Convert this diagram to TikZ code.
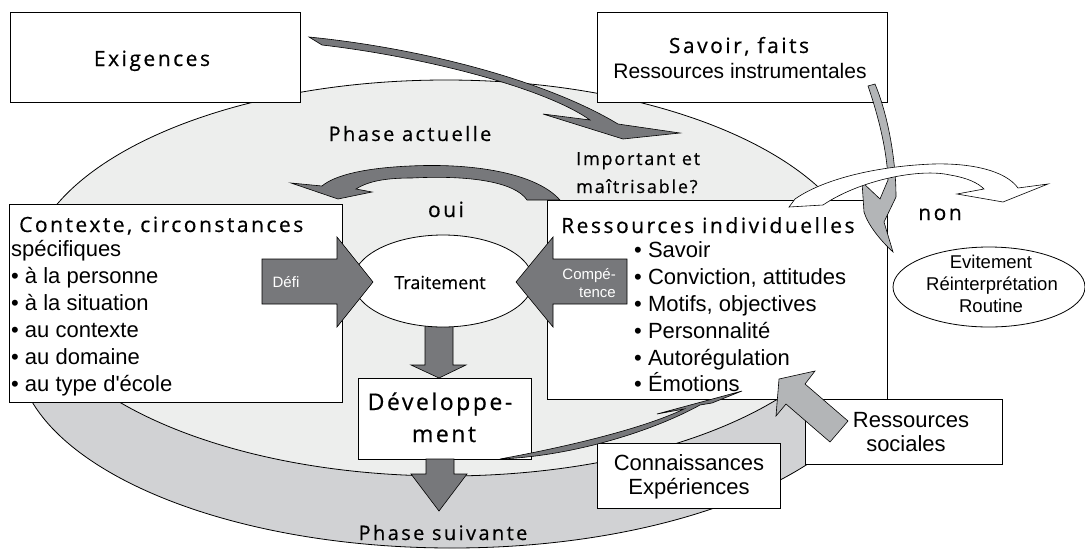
\documentclass[tikz,border=0pt]{standalone}
\usepackage{fontspec}
\setmainfont{Liberation Sans}
\newfontfamily\ttlfont[LetterSpace=12,FakeBold=0.5]{Open Sans}
\newfontfamily\ttlsfont[LetterSpace=10,FakeBold=0.5]{Open Sans}
\newfontfamily\ttlwfont[LetterSpace=11,FakeBold=0.5]{Open Sans}
\newfontfamily\plainttl[FakeBold=0.4]{Open Sans}
\usetikzlibrary{shapes.geometric}
\definecolor{darkarrow}{HTML}{77787B}
\definecolor{topgrey}{HTML}{EDEEED}
\definecolor{botgrey}{HTML}{D1D2D4}
\definecolor{lightarrow}{HTML}{B3B5B7}
\begin{document}
\begin{tikzpicture}[x=1pt,y=-1pt,
  box/.style={draw=black, fill=white, line width=0.8pt, inner sep=0pt},
  ttl/.style={font=\ttlfont\fontsize{21}{25}\selectfont, inner sep=0pt},
  ttlm/.style={font=\ttlfont\fontsize{20}{24}\selectfont, inner sep=0pt},
  ttls/.style={font=\ttlsfont\fontsize{18}{22}\selectfont, inner sep=0pt},
  ttlw/.style={font=\ttlwfont\fontsize{23}{27}\selectfont, inner sep=0pt},
  body/.style={font=\fontsize{22}{27}\selectfont, inner sep=0pt},
  small/.style={font=\fontsize{18.5}{22}\selectfont, inner sep=0pt},
  tiny/.style={font=\fontsize{15}{18}\selectfont, inner sep=0pt, text=white},
  shapeline/.style={draw=black, line width=0.6pt, line join=miter},
]
\useasboundingbox (0,0) rectangle (1085,550);

% the disk
\path[draw=black, line width=0.8pt, fill=botgrey] (452,350) ellipse [x radius=435pt, y radius=198pt];
\path[draw=black, line width=0.8pt, fill=topgrey] (446,278) ellipse [x radius=419pt, y radius=198pt];

% top boxes
\node[box, anchor=north west, minimum width=290pt, minimum height=90pt] (exig) at (10,12) {};
\node[box, anchor=north west, minimum width=290pt, minimum height=90pt] (savoir) at (597,12) {};
\node[ttl, anchor=base] (exigt) at (152,66) {Exigences};
\node[ttl, anchor=base] (savt1) at (739,53) {Savoir, faits};
\node[font=\fontsize{21}{25}\selectfont, inner sep=0pt, anchor=base] (savt2) at (740,78) {Ressources instrumentales};

% Exigences arrow
\path[shapeline, fill=darkarrow] (309,37) .. controls (420,48) and (545,80) .. (618,124)
  -- (680,133) -- (623,139) -- (543,114) -- (590,120)
  .. controls (545,88) and (425,57) .. (322,45) -- cycle;

% middle boxes
\node[box, anchor=north west, minimum width=333pt, minimum height=198pt] (ctx) at (9,204) {};
\node[box, anchor=north west, minimum width=340pt, minimum height=199pt] (resind) at (547,200) {};

% oui arrow
\path[shapeline, fill=darkarrow] (560,200) .. controls (535,172) and (470,163) .. (410,166)
  .. controls (365,168) and (335,175) .. (322,186) -- (291,183) -- (338,199) -- (372,192) -- (356,189)
  .. controls (370,180) and (390,178) .. (412,178)
  .. controls (470,175) and (515,182) .. (527,200) -- cycle;

% Traitement
\path[shapeline, fill=darkarrow] (425,318) -- (453,318) -- (453,365) -- (466,365) -- (439,378) -- (411,365) -- (425,365) -- cycle;
\node[draw=black, line width=0.8pt, fill=white, ellipse, minimum width=180pt, minimum height=92pt, inner sep=0pt] (trait) at (443,281) {};
\node[font=\plainttl\fontsize{18}{22}\selectfont, inner sep=0pt, anchor=base] (traitt) at (440,289) {Traitement};

% Defi / Competence
\path[shapeline, fill=darkarrow] (262,259) -- (337,259) -- (337,237) -- (373,282) -- (337,327) -- (337,304) -- (262,304) -- cycle;
\path[shapeline, fill=darkarrow] (627,259) -- (553,259) -- (553,237) -- (516,282) -- (553,327) -- (553,304) -- (627,304) -- cycle;
\node[tiny, anchor=base] (defi) at (286,287) {Défi};
\node[tiny, anchor=base east] (comp1) at (616,279) {Compé-};
\node[tiny, anchor=base east] (comp2) at (616,297) {tence};

% Developpement
\node[box, anchor=north west, minimum width=173pt, minimum height=81pt] (dev) at (358,378) {};
\node[ttlw, anchor=base] (dev1) at (440,410) {Développe-};
\node[ttlw, anchor=base] (dev2) at (444,442) {ment};
\path[shapeline, fill=darkarrow] (426,459) -- (454,459) -- (454,474) -- (467,474) -- (439,511) -- (411,474) -- (426,474) -- cycle;

% Connaissances
\node[box, anchor=north west, minimum width=183pt, minimum height=65pt] (conn) at (597,443) {};
\node[body, anchor=base] (conn1) at (689,470) {Connaissances};
\node[body, anchor=base] (conn2) at (689,494) {Expériences};

% texts in the context box
\node[ttl, anchor=base west] (ctxt) at (19,232) {Contexte, circonstances};
\foreach \t [count=\i] in {{spécifiques},{• à la personne},{• à la situation},{• au contexte},{• au domaine},{• au type d\textquotesingle école}}
  \node[body, anchor=base west] (ctx\i) at (11,229+27*\i) {\t};

% texts in the individual resources box
\node[ttl, anchor=base west] (rit) at (561,233) {Ressources individuelles};
\foreach \t [count=\i] in {{• Savoir},{• Conviction, attitudes},{• Motifs, objectives},{• Personnalité},{• Autorégulation},{• Émotions}}
  \node[body, anchor=base west] (ri\i) at (634,231+26.8*\i) {\t};

% arrow development -> resources
\path[shapeline, fill=darkarrow] (500,459) .. controls (560,448) and (640,430) .. (684,409)
  -- (657,414) -- (742,391) -- (712,403) -- (700,405)
  .. controls (655,430) and (575,456) .. (500,459) -- cycle;

% social resources
\node[box, anchor=north west, minimum width=197pt, minimum height=65pt] (soc) at (805,399) {};
\node[body, anchor=base] (soc1) at (911,427) {Ressources};
\node[body, anchor=base] (soc2) at (906,451) {sociales};
\path[shapeline, fill=lightarrow] (779,379) -- (815,371) -- (805,384) -- (848,421) -- (830,442) -- (786,404) -- (776,416) -- cycle;

% avoidance ellipse
\node[draw=black, line width=0.8pt, fill=white, ellipse, minimum width=192pt, minimum height=80pt, inner sep=0pt] (evit) at (989,287) {};
\node[small, anchor=base] (ev1) at (991,268) {Evitement};
\node[small, anchor=base] (ev2) at (992,290) {Réinterprétation};
\node[small, anchor=base] (ev3) at (991,312) {Routine};

% instrumental resources arrow
\path[shapeline, fill=lightarrow] (868,86) .. controls (878,115) and (887,150) .. (888,180)
  -- (880,199) -- (862,182) -- (864,212) .. controls (868,225) and (880,240) .. (893,252)
  -- (884,222) -- (896,197) .. controls (896,160) and (888,115) .. (875,84) -- cycle;

% non arrow
\path[shapeline, fill=white] (789,207) -- (823,205) .. controls (860,180) and (920,168) .. (950,175)
  .. controls (968,178) and (978,183) .. (984,189) -- (957,194) -- (1003,202) -- (1048,184) -- (1018,188)
  .. controls (1005,170) and (970,163) .. (933,164) .. controls (880,166) and (825,178) .. (795,199) -- cycle;

% free labels
\node[ttlm, anchor=base] (phA) at (410,141) {Phase actuelle};
\node[ttls, anchor=base west] (imp1) at (576,165) {Important et};
\node[ttls, anchor=base west] (imp2) at (576,193) {maîtrisable?};
\node[ttl, anchor=base] (oui) at (446,217) {oui};
\node[ttl, anchor=base] (non) at (940,220) {non};
\node[ttlm, anchor=base] (phS) at (443,540) {Phase suivante};
\end{tikzpicture}
\end{document}
